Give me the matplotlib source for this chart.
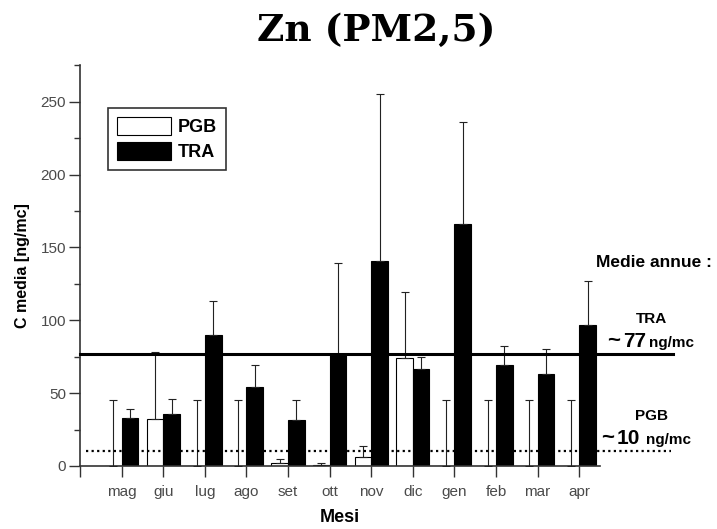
import numpy as np
import matplotlib
matplotlib.use("Agg")
import matplotlib.pyplot as plt

# dati
mesi = ['mag', 'giu', 'lug', 'ago', 'set', 'ott', 'nov', 'dic', 'gen', 'feb', 'mar', 'apr']
pgb = [0, 32, 0, 0, 2.3, 1, 6.5, 74, 0, 0, 0, 0]
pgb_err = [45, 46, 45, 45, 2.3, 1.3, 7, 45.5, 45, 45, 45, 45]
tra = [33, 36, 90, 54.5, 31.5, 77, 140.5, 66.5, 166, 69.5, 63, 96.5]
tra_err = [6, 10, 23, 14.5, 14, 62, 114.5, 8.5, 70, 13, 17, 30.5]
media_tra = 77
media_pgb = 10

plt.rcParams['font.family'] = ['Liberation Sans', 'DejaVu Sans']

fig = plt.figure(figsize=(7.17, 5.29), dpi=100)
ax = fig.add_axes([0.1117, 0.1191, 0.7251, 0.7575])

x = np.arange(len(mesi))
w = 0.4
zero = np.zeros(len(mesi))

ax.bar(x - w / 2, pgb, w, color='white', edgecolor='black', linewidth=0.8, label='PGB', zorder=2)
ax.bar(x + w / 2, tra, w, color='black', edgecolor='black', linewidth=0.8, label='TRA', zorder=2)
ax.errorbar(x - w / 2, pgb, yerr=[zero, pgb_err], fmt='none', ecolor='#222222',
            elinewidth=0.8, capsize=3, capthick=0.8, zorder=3)
ax.errorbar(x + w / 2, tra, yerr=[zero, tra_err], fmt='none', ecolor='#222222',
            elinewidth=0.8, capsize=3, capthick=0.8, zorder=3)

# medie annue
ax.plot([-1, 13.25], [media_tra, media_tra], color='black', lw=2.2, clip_on=False, zorder=4)
ax.plot([-0.85, 13.2], [media_pgb, media_pgb], color='black', lw=1.6, ls=(0, (1, 1.5)),
        clip_on=False, zorder=4)

ax.set_xlim(-1, 11.5)
ax.set_ylim(0, 275)
ax.set_xticks(np.arange(-1, 12))
ax.set_xticklabels([''] + mesi)
ax.set_yticks(np.arange(0, 251, 50))
ax.set_yticks(np.arange(0, 276, 25), minor=True)

for s in ['top', 'right']:
    ax.spines[s].set_visible(False)
for s in ['left', 'bottom']:
    ax.spines[s].set_color('#333333')
    ax.spines[s].set_linewidth(1.2)

ax.tick_params(axis='both', which='major', direction='out', length=8, width=1, color='#333333',
               labelcolor='#4a4a4a', labelsize=11)
ax.tick_params(axis='y', which='minor', direction='out', length=4, width=1, color='#333333')
ax.tick_params(axis='y', pad=2)
ax.tick_params(axis='x', pad=6)
for lab in ax.get_xticklabels() + ax.get_yticklabels():
    lab.set_family(['Liberation Sans Narrow', 'Liberation Sans'])

ax.set_xlabel('Mesi', fontsize=13, fontweight='bold', labelpad=7)
ax.set_ylabel('C media [ng/mc]', fontsize=11.5, fontweight='bold', labelpad=8)

leg = ax.legend(loc='upper left', bbox_to_anchor=(0.053, 0.894), borderaxespad=0,
                fancybox=False, edgecolor='black', handlelength=3.0, handleheight=1.2,
                prop={'weight': 'bold', 'size': 13}, borderpad=0.5, labelspacing=0.3,
                handletextpad=0.4)
leg.get_frame().set_linewidth(1.2)

fig.suptitle('Zn (PM2,5)', x=0.525, y=0.978, fontsize=27, fontweight='bold',
             family='DejaVu Serif')

def fx(px):
    return px / 717

def fy(py):
    return 1 - py / 529

fig.text(fx(654), fy(262), 'Medie annue :', fontsize=12.5, fontweight='bold', ha='center', va='center')
fig.text(fx(652), fy(319), 'TRA', fontsize=11, fontweight='bold', ha='center', va='center')
fig.text(fx(620), fy(347), '~', fontsize=16, fontweight='bold', ha='right', va='baseline')
fig.text(fx(623), fy(347), '77', fontsize=15, fontweight='bold', ha='left', va='baseline')
fig.text(fx(649), fy(347), 'ng/mc', fontsize=11, fontweight='bold', ha='left', va='baseline')
fig.text(fx(652), fy(416), 'PGB', fontsize=11, fontweight='bold', ha='center', va='center')
fig.text(fx(614), fy(444), '~', fontsize=16, fontweight='bold', ha='right', va='baseline')
fig.text(fx(617), fy(444), '10', fontsize=15, fontweight='bold', ha='left', va='baseline')
fig.text(fx(646), fy(444), 'ng/mc', fontsize=11, fontweight='bold', ha='left', va='baseline')

fig.savefig('out.png', dpi=100)
